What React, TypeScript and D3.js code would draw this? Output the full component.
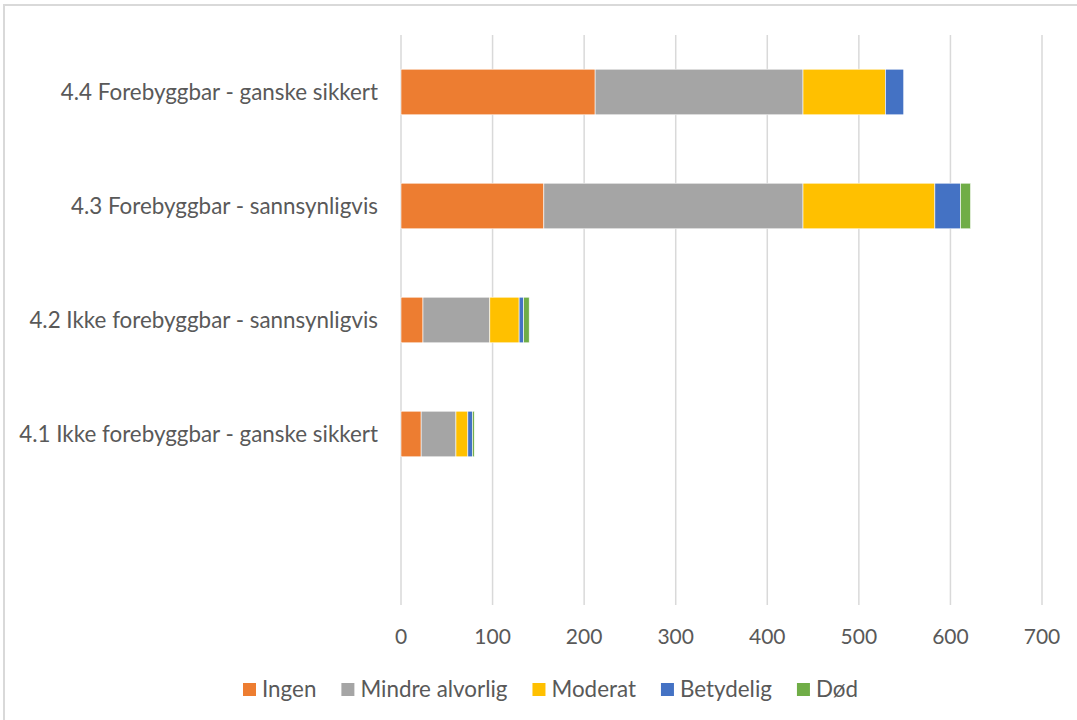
import React, { useEffect, useRef } from "react";
import * as d3 from "d3";

const categories = [
  "4.4 Forebyggbar - ganske sikkert",
  "4.3 Forebyggbar - sannsynligvis",
  "4.2 Ikke forebyggbar - sannsynligvis",
  "4.1 Ikke forebyggbar - ganske sikkert",
  "",
];
const seriesNames = ["Ingen", "Mindre alvorlig", "Moderat", "Betydelig", "Død"];
const seriesColors = ["#ED7D31", "#A5A5A5", "#FFC000", "#4472C4", "#70AD47"];
const ingen = [212, 156, 24, 22, 0];
const mindreAlvorlig = [227, 283, 73, 38, 0];
const moderat = [90, 144, 32, 13, 0];
const betydelig = [20, 28, 5, 5, 0];
const dod = [0, 11, 6, 2, 0];
const xTicks = [0, 100, 200, 300, 400, 500, 600, 700];

const W = 1077;
const H = 720;
const FONT = "Lato, 'Open Sans', sans-serif";
const TEXT = "#595959";

export default function App() {
  const ref = useRef<SVGSVGElement>(null);

  useEffect(() => {
    document.body.style.margin = "0";
    const svg = d3.select(ref.current);
    svg.selectAll("*").remove();

    // outer chart border
    svg
      .append("rect")
      .attr("x", 4)
      .attr("y", 5)
      .attr("width", W + 20)
      .attr("height", H + 20)
      .attr("fill", "#fff")
      .attr("stroke", "#D9D9D9")
      .attr("stroke-width", 2);

    const x = d3.scaleLinear().domain([0, 700]).range([401, 1042]);
    const y = d3
      .scaleBand<string>()
      .domain(categories.map((c, i) => String(i)))
      .range([35, 605])
      .paddingInner(0.6)
      .paddingOuter(0.3);

    // gridlines
    svg
      .append("g")
      .selectAll("line")
      .data(xTicks)
      .join("line")
      .attr("x1", (d) => x(d))
      .attr("x2", (d) => x(d))
      .attr("y1", 35)
      .attr("y2", 605)
      .attr("stroke", "#D9D9D9")
      .attr("stroke-width", 1.5);

    // tick labels
    svg
      .append("g")
      .selectAll("text")
      .data(xTicks)
      .join("text")
      .attr("x", (d) => x(d))
      .attr("y", 644)
      .attr("text-anchor", "middle")
      .attr("font-family", FONT)
      .attr("font-size", 21)
      .attr("fill", TEXT)
      .text((d) => String(d));

    // stacked data
    const rows = categories.map((c, i) => ({
      key: String(i),
      Ingen: ingen[i],
      "Mindre alvorlig": mindreAlvorlig[i],
      Moderat: moderat[i],
      Betydelig: betydelig[i],
      Død: dod[i],
    }));
    const stack = d3.stack<any>().keys(seriesNames);
    const stacked = stack(rows);

    const g = svg.append("g");
    stacked.forEach((layer, si) => {
      g.append("g")
        .selectAll("rect")
        .data(layer.filter((d) => d[1] - d[0] > 0))
        .join("rect")
        .attr("x", (d) => x(d[0]))
        .attr("width", (d) => x(d[1]) - x(d[0]))
        .attr("y", (d) => y(d.data.key)!)
        .attr("height", y.bandwidth())
        .attr("fill", seriesColors[si])
        .attr("stroke", "#ffffff")
        .attr("stroke-width", 0.6);
    });

    // category labels
    svg
      .append("g")
      .selectAll("text")
      .data(categories)
      .join("text")
      .attr("x", 378)
      .attr("y", (d, i) => y(String(i))! + y.bandwidth() / 2 + 8)
      .attr("text-anchor", "end")
      .attr("font-family", FONT)
      .attr("font-size", 22.4)
      .attr("fill", TEXT)
      .text((d) => d);

    // legend
    const leg = svg.append("g");
    let cx = 243;
    seriesNames.forEach((name, i) => {
      leg
        .append("rect")
        .attr("x", cx)
        .attr("y", 683)
        .attr("width", 13)
        .attr("height", 13)
        .attr("fill", seriesColors[i]);
      const t = leg
        .append("text")
        .attr("x", cx + 19)
        .attr("y", 697)
        .attr("font-family", FONT)
        .attr("font-size", 22.4)
        .attr("fill", TEXT)
        .text(name);
      const w = (t.node() as SVGTextElement).getComputedTextLength();
      cx = cx + 19 + w + 25;
    });
  }, []);

  return <svg ref={ref} width={W} height={H} style={{ display: "block" }} />;
}
